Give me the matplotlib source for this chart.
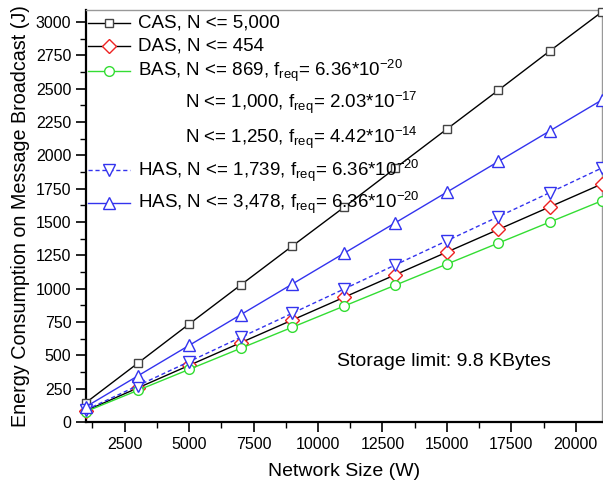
import matplotlib
matplotlib.use("Agg")
import matplotlib.pyplot as plt
from matplotlib.ticker import MultipleLocator

plt.rcParams["font.family"] = ["Liberation Sans", "DejaVu Sans"]
plt.rcParams["mathtext.fontset"] = "custom"
plt.rcParams["mathtext.rm"] = "Liberation Sans"
plt.rcParams["mathtext.it"] = "Liberation Sans"

# network size (W)
sizes = [1000, 3000, 5000, 7000, 9000, 11000, 13000, 15000, 17000, 19000, 21000]

# energy (J)
cas = [146, 440, 735, 1028, 1320, 1610, 1905, 2198, 2490, 2785, 3075]
has_3478 = [115, 345, 575, 805, 1035, 1265, 1495, 1725, 1955, 2185, 2415]
has_1739 = [91, 272, 453, 635, 816, 997, 1179, 1360, 1541, 1722, 1905]
das = [85, 255, 425, 595, 765, 935, 1105, 1275, 1445, 1615, 1785]
bas = [79, 237, 395, 553, 711, 869, 1027, 1185, 1343, 1501, 1659]

labels = [
    "CAS, N <= 5,000",
    "DAS, N <= 454",
    r"BAS, N <= 869, f$_{\rm req}$= 6.36*10$^{-20}$",
    r"N <= 1,000, f$_{\rm req}$= 2.03*10$^{-17}$",
    r"N <= 1,250, f$_{\rm req}$= 4.42*10$^{-14}$",
    r"HAS, N <= 1,739, f$_{\rm req}$= 6.36*10$^{-20}$",
    r"HAS, N <= 3,478, f$_{\rm req}$= 6.36*10$^{-20}$",
]

GREEN = "#33dd33"
BLUE = "#3333ee"
RED = "#ee2222"

styles = [
    # data, line color, marker, marker color, linestyle, ms
    (cas, "black", "s", "#444444", "-", 6),
    (das, "black", "D", RED, "-", 7),
    (bas, GREEN, "o", GREEN, "-", 7),
    (has_1739, BLUE, "v", BLUE, (0, (3, 2)), 9),
    (has_3478, BLUE, "^", BLUE, "-", 9),
]

fig = plt.figure(figsize=(6.03, 4.84), dpi=100)
ax = fig.add_axes([0.1426, 0.128, 0.855, 0.851])

for ys, lc, mk, mc, ls, ms in styles:
    ax.plot(sizes, ys, color=lc, linestyle=ls, linewidth=1.0, marker=mk,
            markersize=ms, markerfacecolor="white", markeredgecolor=mc,
            markeredgewidth=1.0, clip_on=False, zorder=3)

ax.set_xlim(1000, 21000)
ax.set_ylim(0, 3090)
ax.xaxis.set_minor_locator(MultipleLocator(1250))
ax.yaxis.set_major_locator(MultipleLocator(250))
ax.yaxis.set_minor_locator(MultipleLocator(125))
ax.set_xticks([2500, 5000, 7500, 10000, 12500, 15000, 17500, 20000])
ax.tick_params(which="major", direction="out", length=7, width=1.2, labelsize=11.5)
ax.tick_params(which="minor", direction="out", length=4, width=1.0)
ax.tick_params(top=False, right=False)

for s in ("left", "bottom"):
    ax.spines[s].set_linewidth(1.6)
for s in ("top", "right"):
    ax.spines[s].set_color("#999999")
    ax.spines[s].set_linewidth(1.0)

ax.set_xlabel("Network Size (W)", fontsize=14, labelpad=8)
ax.set_ylabel("Energy Consumption on Message Broadcast (J)", fontsize=14.2, labelpad=4)

# hand-built legend
row_y = [0.970, 0.914, 0.853, 0.776, 0.691, 0.611, 0.533]
handle_map = {0: 0, 1: 1, 2: 2, 5: 3, 6: 4}
for i, (txt, y) in enumerate(zip(labels, row_y)):
    if i in handle_map:
        _, lc, mk, mc, ls, ms = styles[handle_map[i]]
        ax.plot([0.004, 0.085], [y, y], transform=ax.transAxes, color=lc,
                linestyle=ls, linewidth=1.0, clip_on=False)
        ax.plot([0.045], [y], transform=ax.transAxes, marker=mk, markersize=ms,
                markerfacecolor="white", markeredgecolor=mc, markeredgewidth=1.0,
                clip_on=False)
        x = 0.10
    else:
        x = 0.192
    ax.text(x, y, txt, transform=ax.transAxes, fontsize=13.5, va="center", ha="left")

ax.text(0.486, 0.146, "Storage limit: 9.8 KBytes", transform=ax.transAxes,
        fontsize=14, va="center", ha="left")

fig.savefig("out.png", dpi=100)
